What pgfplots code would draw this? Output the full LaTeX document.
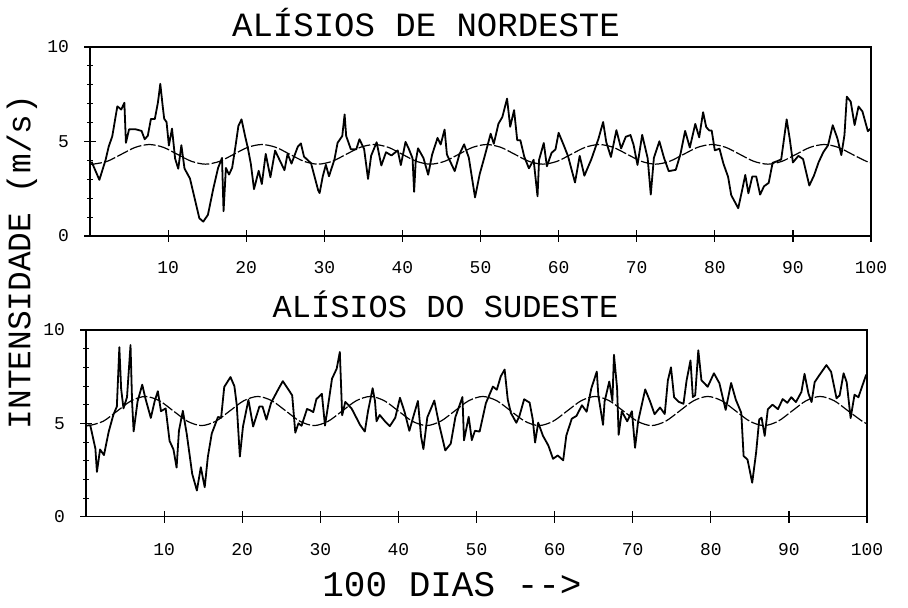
\documentclass[border=0pt]{standalone}
\usepackage{fontspec}
\setmainfont{Liberation Mono}
\usepackage{pgfplots}
\pgfplotsset{compat=1.18}
\pgfplotsset{
  panel/.style={
    scale only axis, width=390.5pt,
    xmin=0, xmax=100, ymin=0, ymax=10,
    xtick={10,20,...,100}, ytick={0,5,10},
    minor ytick={1,2,3,4,6,7,8,9},
    tick pos=left, tick align=center,
    major tick length=6pt, minor tick length=3pt,
    axis line style={line width=0.6pt},
    every major tick/.append style={line width=0.6pt, black},
    every minor tick/.append style={line width=0.5pt, black},
    /pgf/number format/assume math mode=true,
    tick label style={font=\fontsize{9}{10}\selectfont},
    yticklabel shift=4pt,
  },
  noisy/.style={black, line width=0.9pt, line join=round, no marks},
  fit/.style={black, line width=0.6pt, smooth, no marks, dash pattern=on 6pt off 1.2pt},
}
\begin{document}
\begin{tikzpicture}
\path[use as bounding box] (0pt,0pt) rectangle (454pt,304pt);

% ---------- top panel ----------
\begin{axis}[panel, at={(45pt,186pt)}, anchor=south west, height=94.5pt, xticklabel shift=6pt]
\addplot[noisy] coordinates {
(0.2,3.93)(1.2,2.97)(2.0,4.03)(2.4,4.74)(2.85,5.27)(3.5,6.86)(4.0,6.69)(4.4,7.05)(4.6,4.93)(5.0,5.64)(5.8,5.65)(6.6,5.56)(7.0,5.12)(7.4,5.3)(7.8,6.19)(8.3,6.19)(8.7,7.07)(9.0,8.05)(9.3,6.9)(9.5,6.2)(9.8,6.03)(10.1,4.79)(10.5,5.68)(10.9,4.09)(11.3,3.56)(11.7,4.8)(12.1,3.57)(12.8,3.04)(13.4,1.99)(14.0,0.94)(14.5,0.76)(15.1,1.12)(15.8,2.53)(16.4,3.6)(16.9,4.13)(17.1,1.31)(17.4,3.6)(17.8,3.25)(18.2,3.61)(18.6,4.67)(19.0,5.82)(19.4,6.17)(19.9,5.21)(20.2,4.68)(20.6,3.8)(21.0,2.48)(21.6,3.45)(22.0,2.75)(22.5,4.34)(23.1,3.11)(23.7,4.52)(24.9,3.48)(25.3,4.35)(25.8,3.83)(26.6,4.72)(27.0,4.9)(27.4,4.2)(28.3,3.85)(29.2,2.44)(29.4,2.27)(29.8,3.15)(30.2,3.77)(30.6,3.16)(31.3,4.05)(31.7,4.93)(32.3,5.29)(32.6,6.43)(32.8,5.29)(33.4,4.59)(34.1,4.59)(34.5,5.12)(35.1,4.6)(35.6,3.02)(36.0,4.25)(36.7,4.96)(37.3,3.73)(37.9,4.43)(38.6,4.26)(39.4,4.53)(39.8,3.75)(40.4,4.98)(40.8,4.63)(41.3,4.11)(41.5,2.34)(41.7,3.93)(42.0,4.64)(42.7,4.12)(43.3,3.24)(43.8,4.3)(44.5,5.19)(44.9,4.84)(45.4,5.63)(45.7,4.31)(46.7,3.43)(47.3,4.32)(47.9,4.85)(48.5,4.15)(49.1,2.57)(49.3,2.04)(49.9,3.28)(50.5,4.17)(51.3,5.41)(51.7,4.88)(52.3,5.94)(52.8,6.3)(53.4,7.27)(53.8,5.78)(54.3,6.66)(54.7,5.07)(55.1,5.07)(55.6,4.2)(56.2,3.58)(56.8,4.03)(57.3,2.1)(57.5,4.03)(58.1,4.92)(58.5,3.69)(59.1,4.4)(59.6,4.58)(60.0,5.46)(60.7,4.76)(61.2,4.23)(62.1,2.83)(62.7,4.24)(63.3,3.19)(64.2,4.07)(65.1,5.14)(65.7,6.03)(66.1,4.97)(66.7,4.18)(67.4,5.6)(68.0,4.63)(68.6,5.25)(69.2,5.34)(69.6,4.82)(70.1,3.76)(70.7,5.35)(71.4,4.12)(71.8,2.19)(72.2,4.13)(72.9,5.01)(73.5,4.13)(74.1,3.43)(75.0,3.5)(75.6,4.33)(76.2,5.56)(76.8,4.68)(77.5,5.93)(78.0,5.22)(78.5,6.55)(78.9,5.76)(79.3,5.58)(79.6,5.58)(80.0,4.53)(80.6,4.62)(81.1,3.83)(81.7,3.13)(82.1,2.16)(83.0,1.47)(83.5,2.43)(83.9,3.23)(84.3,2.26)(84.8,3.15)(85.3,3.15)(85.8,2.19)(86.3,2.63)(86.9,2.81)(87.4,3.87)(88.0,3.96)(88.5,4.05)(89.2,6.17)(89.6,5.12)(90.0,3.89)(90.7,4.24)(91.3,4.07)(92.1,2.67)(92.7,3.2)(93.3,3.91)(93.9,4.44)(94.5,4.8)(95.1,5.86)(95.7,5.16)(96.2,4.28)(96.6,5.34)(96.9,7.37)(97.4,7.11)(97.9,5.87)(98.4,6.85)(98.9,6.59)(99.6,5.54)(100,5.71)
};
\addplot[fit] coordinates {
(0,3.81)(0.4,3.80)(2.2,3.95)(4.0,4.32)(5.8,4.69)(7.6,4.84)(9.4,4.69)(11.2,4.32)(13.0,3.95)(14.8,3.80)(16.6,3.95)(18.4,4.32)(20.2,4.69)(22.0,4.84)(23.8,4.69)(25.6,4.32)(27.4,3.95)(29.2,3.80)(31.0,3.95)(32.8,4.32)(34.6,4.69)(36.4,4.84)(38.2,4.69)(40.0,4.32)(41.8,3.95)(43.6,3.80)(45.4,3.95)(47.2,4.32)(49.0,4.69)(50.8,4.84)(52.6,4.69)(54.4,4.32)(56.2,3.95)(58.0,3.80)(59.8,3.95)(61.6,4.32)(63.4,4.69)(65.2,4.84)(67.0,4.69)(68.8,4.32)(70.6,3.95)(72.4,3.80)(74.2,3.95)(76.0,4.32)(77.8,4.69)(79.6,4.84)(81.4,4.69)(83.2,4.32)(85.0,3.95)(86.8,3.80)(88.6,3.95)(90.4,4.32)(92.2,4.69)(94.0,4.84)(95.8,4.69)(97.6,4.32)(99.4,3.95)(100,3.87)
};
\end{axis}

% ---------- bottom panel ----------
\begin{axis}[panel, at={(43pt,45.65pt)}, anchor=south west, height=93.35pt, xticklabel shift=7pt]
\addplot[noisy] coordinates {
(0.2,4.9)(0.55,4.89)(1.2,3.65)(1.4,2.4)(1.8,3.6)(2.3,3.3)(2.9,4.54)(3.5,5.45)(3.95,5.9)(4.27,9.08)(4.5,6.85)(4.8,5.8)(5.25,6.4)(5.7,9.19)(5.9,6.16)(6.1,4.57)(6.6,6.17)(7.2,7.07)(7.6,6.35)(8.3,5.29)(8.8,6.2)(9.2,6.72)(9.6,5.65)(10.2,5.8)(10.7,4.06)(11.2,3.6)(11.6,2.63)(11.9,4.6)(12.4,5.67)(12.9,4.43)(13.6,2.29)(14.2,1.4)(14.7,2.65)(15.2,1.58)(15.6,3.2)(16.1,4.45)(16.9,5.34)(17.3,5.3)(17.7,6.95)(18.5,7.48)(19.0,6.99)(19.3,6.0)(19.7,3.22)(20.1,4.83)(20.8,6.26)(21.4,4.83)(22.2,5.9)(22.6,5.9)(23.1,5.2)(23.7,6.1)(24.6,6.81)(25.2,7.26)(25.9,6.82)(26.4,6.5)(26.8,4.5)(27.2,5.0)(27.6,4.87)(28.3,5.77)(28.7,5.7)(29.1,5.6)(29.5,6.3)(30.2,6.58)(30.6,4.88)(31.0,5.96)(31.5,7.39)(32.1,7.93)(32.5,8.82)(32.8,5.43)(33.2,6.15)(34.0,5.8)(35.1,4.91)(35.7,4.56)(36.1,5.63)(36.7,6.88)(37.0,6.2)(37.2,5.11)(37.6,5.45)(38.3,5.1)(38.9,4.85)(39.6,5.3)(40.2,6.37)(40.8,5.6)(41.4,4.6)(42.0,5.49)(42.5,6.2)(42.9,4.3)(43.2,3.62)(43.7,5.32)(44.6,6.22)(45.2,4.97)(46.0,3.55)(46.7,3.91)(47.3,5.34)(48.2,6.41)(48.4,4.09)(49.0,5.35)(49.4,4.1)(49.8,4.6)(50.4,4.56)(51.2,6.08)(52.1,6.97)(52.6,6.8)(53.1,7.51)(53.6,7.88)(54.0,6.28)(54.4,5.56)(55.1,5.03)(55.5,5.4)(56.1,6.29)(56.8,6.11)(57.2,5.22)(57.5,3.97)(57.9,5.04)(58.5,4.34)(59.2,3.81)(59.8,3.1)(60.4,3.28)(61.1,3.02)(61.5,4.35)(62.2,5.25)(62.8,5.4)(63.5,5.97)(64.1,5.62)(64.7,6.87)(65.4,7.77)(65.6,6.5)(66.2,4.92)(66.4,6.17)(67.0,7.24)(67.4,6.2)(67.6,8.67)(68.0,6.89)(68.2,4.39)(68.6,5.64)(69.3,5.11)(69.9,5.65)(70.3,3.69)(70.7,5.12)(71.6,6.82)(72.2,6.2)(72.8,5.49)(73.5,5.85)(74.1,5.5)(74.5,7.29)(74.9,8.0)(75.3,6.4)(75.9,6.15)(76.5,6.05)(76.9,7.3)(77.4,8.37)(77.7,6.41)(78.0,6.5)(78.4,8.91)(78.8,7.31)(79.6,6.96)(80.4,7.68)(81.1,7.15)(81.9,5.72)(82.6,7.16)(83.2,6.27)(83.9,5.56)(84.2,3.25)(84.7,3.06)(85.3,1.82)(85.8,3.43)(86.2,5.21)(86.5,5.3)(86.9,4.33)(87.3,5.75)(87.9,6.0)(88.6,5.76)(89.2,6.3)(89.8,6.1)(90.3,6.4)(90.9,6.14)(91.6,6.68)(92.0,7.65)(92.5,6.6)(92.9,6.14)(93.3,7.21)(93.9,7.58)(94.8,8.12)(95.4,7.76)(96.1,6.34)(96.5,6.5)(97.0,7.68)(97.4,7.2)(97.9,5.28)(98.4,6.53)(98.9,6.4)(99.3,6.89)(99.9,7.61)
};
\addplot[fit] coordinates {
(0,4.89)(0.4,4.88)(2.2,5.11)(4.0,5.66)(5.8,6.21)(7.6,6.44)(9.4,6.21)(11.2,5.66)(13.0,5.11)(14.8,4.88)(16.6,5.11)(18.4,5.66)(20.2,6.21)(22.0,6.44)(23.8,6.21)(25.6,5.66)(27.4,5.11)(29.2,4.88)(31.0,5.11)(32.8,5.66)(34.6,6.21)(36.4,6.44)(38.2,6.21)(40.0,5.66)(41.8,5.11)(43.6,4.88)(45.4,5.11)(47.2,5.66)(49.0,6.21)(50.8,6.44)(52.6,6.21)(54.4,5.66)(56.2,5.11)(58.0,4.88)(59.8,5.11)(61.6,5.66)(63.4,6.21)(65.2,6.44)(67.0,6.21)(68.8,5.66)(70.6,5.11)(72.4,4.88)(74.2,5.11)(76.0,5.66)(77.8,6.21)(79.6,6.44)(81.4,6.21)(83.2,5.66)(85.0,5.11)(86.8,4.88)(88.6,5.11)(90.4,5.66)(92.2,6.21)(94.0,6.44)(95.8,6.21)(97.6,5.66)(99.4,5.11)(100,4.98)
};
\end{axis}

% ---------- texts ----------
\node[anchor=base, font=\fontsize{17}{20}\selectfont] at (213pt,285.5pt) {ALÍSIOS DE NORDESTE};
\node[anchor=base, font=\fontsize{16}{19}\selectfont] at (222.75pt,145pt) {ALÍSIOS DO SUDESTE};
\node[anchor=base, font=\fontsize{18}{21}\selectfont] at (226pt,5.5pt) {100 DIAS -{}->};
\node[rotate=90, font=\fontsize{16.4}{19}\selectfont] at (11pt,173pt) {INTENSIDADE (m/s)};
\end{tikzpicture}
\end{document}
